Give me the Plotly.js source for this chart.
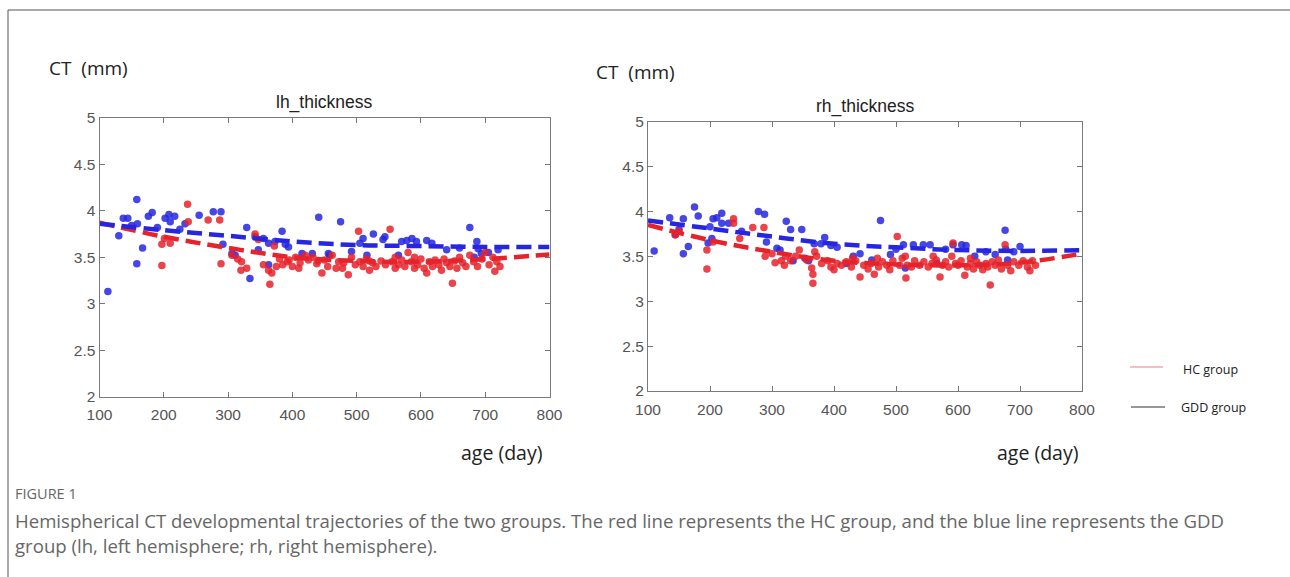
<!DOCTYPE html>
<html>
<head>
<meta charset="utf-8">
<script src="https://cdn.plot.ly/plotly-3.0.1.min.js"></script>
<style>
html,body{margin:0;padding:0;background:#fff;}
#chart{width:1290px;height:577px;}
</style>
</head>
<body>
<div id="chart"></div>
<script>
// ---- Data ----
const lhGddAge = [113,130,137,144,150,158,158,159,167,176,182,190,202,208,210,217,225,233,255,277,289,292,306,311,329,334,342,347,355,363,363,373,384,389,394,415,431,441,456,458,475,492,505,510,516,526,541,544,565,570,578,586,593,609,617,640,660,676,683,687,689,694,705,720];
const lhGddCT  = [3.13,3.73,3.92,3.92,3.84,4.12,3.43,3.86,3.60,3.94,3.98,3.82,3.92,3.96,3.88,3.94,3.80,3.86,3.95,3.99,3.99,3.64,3.54,3.52,3.82,3.27,3.72,3.58,3.70,3.42,3.65,3.67,3.78,3.64,3.61,3.54,3.54,3.93,3.54,3.52,3.88,3.56,3.65,3.70,3.52,3.75,3.69,3.72,3.52,3.67,3.68,3.70,3.67,3.68,3.65,3.58,3.60,3.82,3.50,3.67,3.59,3.54,3.55,3.58];

const lhHcAge = [197,197,201,210,237,238,269,287,289,306,315,321,320,329,342,347,355,363,365,368,372,375,380,385,392,395,400,405,410,412,420,425,432,438,440,446,450,455,462,468,472,478,480,487,492,498,503,505,510,515,520,520,525,530,538,545,552,555,560,560,565,570,575,580,585,590,590,595,600,605,609,613,618,622,628,632,636,640,645,649,652,656,660,665,670,676,682,688,695,700,706,712,715,718,723];
const lhHcCT  = [3.41,3.64,3.70,3.65,4.07,3.88,3.90,3.90,3.43,3.52,3.48,3.45,3.36,3.38,3.75,3.69,3.42,3.36,3.21,3.33,3.62,3.40,3.48,3.42,3.45,3.47,3.40,3.50,3.38,3.44,3.52,3.47,3.50,3.43,3.46,3.33,3.47,3.40,3.52,3.38,3.45,3.38,3.44,3.31,3.50,3.42,3.78,3.45,3.40,3.48,3.36,3.46,3.44,3.40,3.46,3.42,3.80,3.45,3.50,3.38,3.42,3.47,3.40,3.55,3.45,3.50,3.38,3.42,3.48,3.38,3.33,3.45,3.40,3.47,3.42,3.36,3.48,3.44,3.40,3.22,3.46,3.38,3.50,3.44,3.40,3.52,3.45,3.40,3.48,3.55,3.42,3.50,3.35,3.45,3.40];

const rhGddAge = [110,135,144,150,157,157,165,175,181,197,200,203,205,211,219,219,230,251,278,288,291,308,313,323,330,334,348,353,359,368,379,385,395,405,420,431,442,461,475,491,500,512,515,528,544,555,566,580,592,606,613,627,645,660,676,677,680,690,700];
const rhGddCT  = [3.56,3.93,3.74,3.80,3.92,3.53,3.61,4.05,3.95,3.65,3.83,3.70,3.92,3.93,3.98,3.87,3.87,3.78,4.00,3.97,3.66,3.59,3.57,3.89,3.80,3.45,3.80,3.48,3.45,3.64,3.64,3.71,3.62,3.60,3.42,3.50,3.53,3.46,3.90,3.52,3.58,3.63,3.37,3.63,3.63,3.63,3.42,3.58,3.63,3.63,3.62,3.50,3.55,3.52,3.79,3.58,3.46,3.55,3.61];

const rhHcAge = [144,150,195,195,205,238,238,248,269,287,289,300,305,315,320,322,330,338,344,356,364,366,366,369,372,380,390,395,400,405,412,420,428,430,435,442,448,455,460,465,470,472,478,485,490,495,502,506,510,515,516,518,525,530,538,545,552,558,560,565,571,575,580,585,590,592,596,600,605,611,615,620,620,625,630,635,640,645,648,652,655,660,665,670,676,680,685,690,698,705,712,716,720,725];
const rhHcCT  = [3.74,3.78,3.36,3.57,3.66,3.92,3.87,3.70,3.82,3.82,3.50,3.53,3.43,3.45,3.40,3.50,3.45,3.50,3.57,3.46,3.37,3.30,3.20,3.55,3.50,3.42,3.45,3.38,3.35,3.42,3.40,3.44,3.38,3.48,3.45,3.27,3.40,3.36,3.42,3.30,3.48,3.38,3.44,3.40,3.35,3.45,3.72,3.40,3.48,3.50,3.26,3.40,3.38,3.45,3.40,3.44,3.38,3.42,3.50,3.46,3.27,3.40,3.44,3.38,3.50,3.65,3.42,3.40,3.45,3.29,3.38,3.42,3.48,3.36,3.44,3.40,3.35,3.42,3.38,3.18,3.44,3.40,3.46,3.36,3.63,3.40,3.34,3.44,3.40,3.45,3.38,3.34,3.45,3.40];

// fitted trajectories (read at regular ages)
const fitAge   = [100,200,300,400,500,600,700,800];
const lhGddFit = [3.86,3.79,3.73,3.67,3.63,3.62,3.61,3.61];
const lhHcFit  = [3.87,3.72,3.60,3.50,3.46,3.45,3.48,3.53];
const rhGddFit = [3.90,3.81,3.72,3.64,3.60,3.57,3.56,3.57];
const rhHcFit  = [3.85,3.68,3.55,3.45,3.41,3.40,3.43,3.53];

const plotTitles = ['lh_thickness','rh_thickness'];
const xTicks = [100,200,300,400,500,600,700,800];
const yTicks = [2,2.5,3,3.5,4,4.5,5];
const legendNames = ['HC group','GDD group'];

// ---- styles ----
const W = 1290, H = 577;
const px = v => v / W;
const py = v => 1 - v / H;
const BLUE = '#2626e0', RED = '#e6222a';
const FONT = 'Liberation Sans, Arial, sans-serif';
const SANS = 'Open Sans, sans-serif';

function pts(x, y, color, xa, ya) {
  return {x: x, y: y, xaxis: xa, yaxis: ya, type: 'scatter', mode: 'markers',
    marker: {color: color, size: 7.5, opacity: 0.85}, showlegend: false, hoverinfo: 'skip'};
}
function fit(x, y, color, xa, ya) {
  return {x: x, y: y, xaxis: xa, yaxis: ya, type: 'scatter', mode: 'lines',
    line: {color: color, width: 4.5, dash: '15px,7px', shape: 'spline'}, showlegend: false, hoverinfo: 'skip'};
}

const data = [
  pts(lhGddAge, lhGddCT, BLUE, 'x', 'y'),
  pts(lhHcAge, lhHcCT, RED, 'x', 'y'),
  fit(fitAge, lhHcFit, RED, 'x', 'y'),
  fit(fitAge, lhGddFit, BLUE, 'x', 'y'),
  pts(rhGddAge, rhGddCT, BLUE, 'x2', 'y2'),
  pts(rhHcAge, rhHcCT, RED, 'x2', 'y2'),
  fit(fitAge, rhHcFit, RED, 'x2', 'y2'),
  fit(fitAge, rhGddFit, BLUE, 'x2', 'y2')
];

function xax(domain, anchor) {
  return {domain: domain, anchor: anchor, range: [100, 800], tickvals: xTicks,
    ticks: 'inside', ticklen: 5, tickcolor: '#777', mirror: 'ticks', showline: true,
    linecolor: '#7a7a7a', linewidth: 1, showgrid: false, zeroline: false,
    ticklabelstandoff: 4,
    tickfont: {family: FONT, size: 15.5, color: '#555'}};
}
function yax(domain, anchor) {
  return {domain: domain, anchor: anchor, range: [2, 5], tickvals: yTicks,
    ticks: 'inside', ticklen: 5, tickcolor: '#777', mirror: 'ticks', showline: true,
    linecolor: '#7a7a7a', linewidth: 1, showgrid: false, zeroline: false,
    tickfont: {family: FONT, size: 15.5, color: '#555'}};
}

function ann(text, x, y, size, color, xanchor, family) {
  return {text: text, xref: 'paper', yref: 'paper', x: px(x), y: py(y), xanchor: xanchor || 'center',
    yanchor: 'middle', showarrow: false, font: {family: family || FONT, size: size, color: color}};
}

const annotations = [
  ann(plotTitles[0], 324.5, 102.5, 17.5, '#222'),
  ann(plotTitles[1], 865, 106.5, 17.5, '#222'),
  ann('CT  (mm)', 47, 68, 19, '#222', 'left', SANS),
  ann('CT  (mm)', 594, 72, 19, '#222', 'left', SANS),
  ann('age (day)', 501, 452, 19.5, '#222', 'center', SANS),
  ann('age (day)', 1037, 452, 19.5, '#222', 'center', SANS),
  ann(legendNames[0], 1181, 369, 12.5, '#222', 'left', SANS),
  ann(legendNames[1], 1179, 407, 12.5, '#222', 'left', SANS),
  ann('FIGURE 1', 13, 493, 14.5, '#666', 'left', SANS),
  ann('Hemispherical CT developmental trajectories of the two groups. The red line represents the HC group, and the blue line represents the GDD', 13, 520, 18.6, '#666', 'left', SANS),
  ann('group (lh, left hemisphere; rh, right hemisphere).', 13, 545, 18.6, '#666', 'left', SANS)
];

const shapes = [
  {type: 'line', xref: 'paper', yref: 'paper', x0: px(8), x1: px(8), y0: py(577), y1: py(10), line: {color: '#555', width: 1}},
  {type: 'line', xref: 'paper', yref: 'paper', x0: px(8), x1: px(1290), y0: py(10), y1: py(10), line: {color: '#555', width: 1}},
  {type: 'line', xref: 'paper', yref: 'paper', x0: px(1130), x1: px(1163), y0: py(367), y1: py(367), line: {color: '#f07a86', width: 1}},
  {type: 'line', xref: 'paper', yref: 'paper', x0: px(1131), x1: px(1165), y0: py(407), y1: py(407), line: {color: '#333', width: 1}}
];

const layout = {
  width: W, height: H, margin: {l: 0, r: 0, t: 0, b: 0},
  paper_bgcolor: '#fff', plot_bgcolor: '#fff', showlegend: false,
  xaxis: xax([px(99.5), px(549.5)], 'y'),
  yaxis: yax([py(396.7), py(117.7)], 'x'),
  xaxis2: xax([px(648), px(1082)], 'y2'),
  yaxis2: yax([py(391), py(121.7)], 'x2'),
  annotations: annotations, shapes: shapes
};

Plotly.newPlot('chart', data, layout, {displayModeBar: false, staticPlot: true});
</script>
</body>
</html>
